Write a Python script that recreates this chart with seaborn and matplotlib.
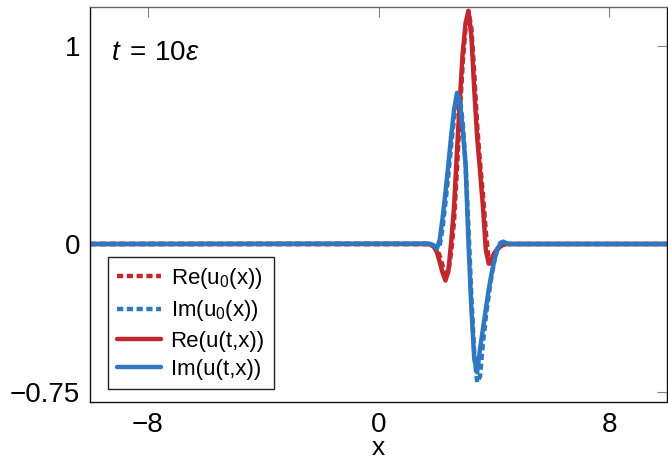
import matplotlib
matplotlib.use("Agg")
import matplotlib.pyplot as plt
import pandas as pd
import seaborn as sns

# sample points (x) and the four curves
x = [-10.0, 1.72, 1.82, 1.92, 2.02, 2.12, 2.22, 2.32, 2.42, 2.52, 2.62, 2.72, 2.82,
     2.92, 3.02, 3.12, 3.22, 3.32, 3.42, 3.52, 3.62, 3.72, 3.82, 3.92, 4.02,
     4.12, 4.22, 4.32, 4.42, 4.52, 10.0]

re_u0 = [0.0, 0.0, -0.003, -0.01, -0.025, -0.06, -0.11, -0.15, -0.14, -0.04, 0.12,
         0.38, 0.66, 0.92, 1.10, 1.18, 1.09, 0.86, 0.60, 0.41, 0.25, 0.06,
         -0.08, -0.10, -0.06, -0.03, -0.012, -0.004, 0.0, 0.0, 0.0]
im_u0 = [0.0, 0.0, 0.0, -0.008, -0.02, -0.01, 0.08, 0.21, 0.35, 0.50, 0.64,
         0.74, 0.74, 0.61, 0.40, 0.08, -0.27, -0.56, -0.70, -0.67, -0.50, -0.37,
         -0.26, -0.16, -0.08, -0.025, 0.005, 0.012, 0.006, 0.0, 0.0]
re_u = [0.0, 0.0, -0.005, -0.015, -0.04, -0.09, -0.145, -0.185, -0.14, 0.01, 0.19,
        0.47, 0.73, 0.97, 1.12, 1.18, 1.05, 0.78, 0.54, 0.37, 0.19, -0.03,
        -0.10, -0.075, -0.045, -0.025, -0.012, -0.005, 0.0, 0.0, 0.0]
im_u = [0.0, 0.002, 0.0, -0.01, -0.025, 0.02, 0.13, 0.26, 0.40, 0.55, 0.68,
        0.765, 0.72, 0.58, 0.40, 0.0, -0.33, -0.58, -0.65, -0.53, -0.43, -0.33,
        -0.23, -0.15, -0.08, -0.025, 0.0, 0.01, 0.006, 0.0, 0.0]

labels = ["Re(u$_0$(x))", "Im(u$_0$(x))", "Re(u(t,x))", "Im(u(t,x))"]
x_ticks = [-8, 0, 8]
y_ticks = [-0.75, 0, 1]
y_tick_labels = ["\u22120.75", "0", "1"]

red = "#C1272D"
blue = "#2F78C0"

sns.set_theme(style="white")
plt.rcParams["font.family"] = ["Liberation Sans", "DejaVu Sans"]
plt.rcParams["mathtext.fontset"] = "custom"
plt.rcParams["mathtext.rm"] = "Liberation Sans"
plt.rcParams["mathtext.it"] = "Liberation Sans:italic"
plt.rcParams["text.color"] = "black"
plt.rcParams["axes.labelcolor"] = "black"

fig = plt.figure(figsize=(6.68, 4.65), dpi=100)
ax = fig.add_axes([90 / 668, 63 / 465, 577 / 668, 395 / 465])

dotted = (0, (1.4, 0.8))
series = [(re_u0, red, dotted), (im_u0, blue, dotted),
          (re_u, red, "-"), (im_u, blue, "-")]
for (y, col, ls), lab in zip(series, labels):
    df = pd.DataFrame({"x": x, "y": y})
    sns.lineplot(data=df, x="x", y="y", ax=ax, color=col, linewidth=3.2,
                 linestyle=ls, label=lab, estimator=None)

ax.set_xlim(-10, 10)
ax.set_ylim(-0.8, 1.2)
ax.set_xticks(x_ticks)
ax.set_yticks(y_ticks)
ax.set_yticklabels(y_tick_labels)
ax.tick_params(direction="in", length=7, width=0.8, color="#808080",
               labelcolor="black", top=True, right=True, labelsize=20)
ax.tick_params(axis="x", pad=7)
ax.tick_params(axis="y", pad=7)
ax.set_xlabel("x", fontsize=19, labelpad=-1)
ax.set_ylabel("")
for s in ax.spines.values():
    s.set_color("#111111")
    s.set_linewidth(1.0)
ax.spines["top"].set_color("#666666")

ax.text(0.037, 0.884, r"$t\;=\,10\varepsilon$", transform=ax.transAxes,
        fontsize=20, va="center", ha="left")

leg = ax.legend(loc="lower left", bbox_to_anchor=(0.031, 0.033), frameon=True,
                fancybox=False, edgecolor="#222222", framealpha=1, fontsize=16,
                handlelength=2.0, handletextpad=0.42, labelspacing=0.33,
                borderpad=0.4, borderaxespad=0)
leg.get_frame().set_linewidth(1.0)

fig.savefig("out.png", dpi=100)
